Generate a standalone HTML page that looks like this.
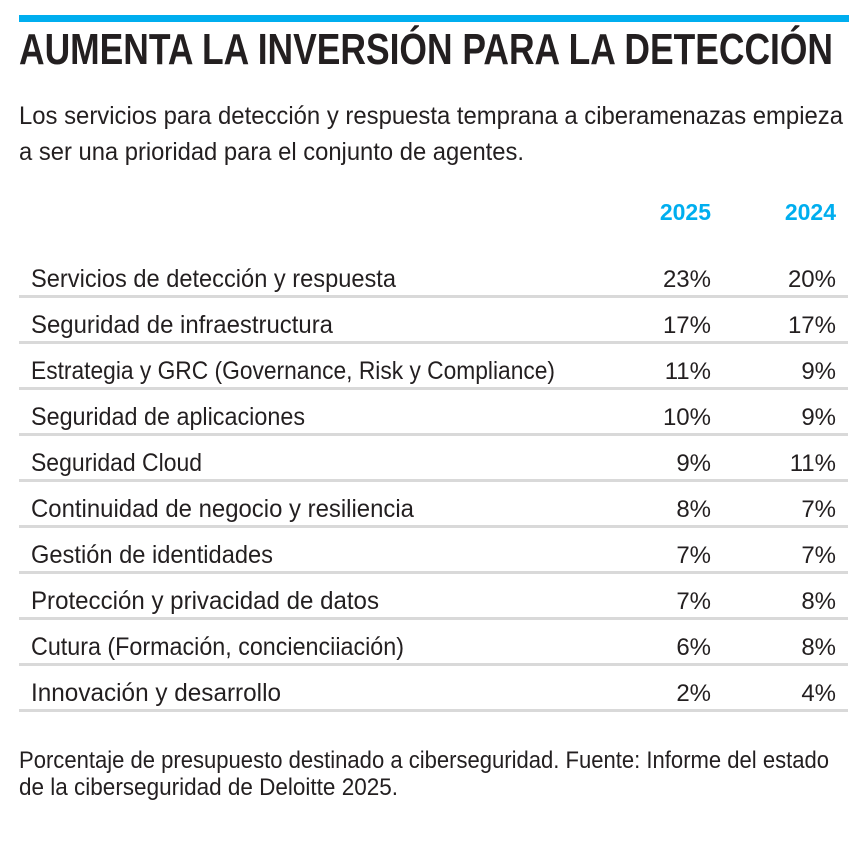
<!DOCTYPE html>
<html><head><meta charset="utf-8"><style>
html,body{margin:0;padding:0;background:#fff;}
svg{display:block;font-family:"Liberation Sans",sans-serif;}
</style></head><body>
<svg id="chart" width="866" height="844" viewBox="0 0 866 844" xmlns="http://www.w3.org/2000/svg">
<rect x="19" y="15" width="830" height="7" fill="#00aeef"/>
<text x="19" y="64" font-size="44" font-weight="bold" fill="#231f20" textLength="814" lengthAdjust="spacingAndGlyphs">AUMENTA LA INVERSIÓN PARA LA DETECCIÓN</text>
<text x="19" y="124" font-size="25" fill="#231f20" textLength="824" lengthAdjust="spacingAndGlyphs">Los servicios para  detección y respuesta temprana a ciberamenazas empieza</text>
<text x="19" y="160" font-size="25" fill="#231f20" textLength="505" lengthAdjust="spacingAndGlyphs">a ser una prioridad para el conjunto de agentes.</text>
<text x="711" y="220" font-size="23" font-weight="bold" fill="#00aeef" text-anchor="end">2025</text>
<text x="836" y="220" font-size="23" font-weight="bold" fill="#00aeef" text-anchor="end">2024</text>
<g id="rows"></g>
<text x="19" y="768" font-size="24" fill="#231f20" textLength="810" lengthAdjust="spacingAndGlyphs">Porcentaje de presupuesto destinado a ciberseguridad. Fuente: Informe del estado</text>
<text x="19" y="795" font-size="24" fill="#231f20" textLength="379" lengthAdjust="spacingAndGlyphs">de la ciberseguridad de Deloitte 2025.</text>
</svg>
<script>
const categories = ["Servicios de detección y respuesta","Seguridad de infraestructura","Estrategia y GRC (Governance, Risk y Compliance)","Seguridad de aplicaciones","Seguridad Cloud","Continuidad de negocio y resiliencia","Gestión de identidades","Protección y privacidad de datos","Cutura (Formación, concienciiación)","Innovación y desarrollo"];
const values2025 = [23,17,11,10,9,8,7,7,6,2];
const values2024 = [20,17,9,9,11,7,7,8,8,4];
const labelWidths = [365,302,524,274,171,383,242,348,373,250];
const NS = "http://www.w3.org/2000/svg";
const g = document.getElementById("rows");
function rowY(i){ return 287 + i*46; }
categories.forEach((c,i)=>{
  const y = rowY(i);
  const t = document.createElementNS(NS,"text");
  
  
  t.setAttribute("x",31); t.setAttribute("y",y);
  t.setAttribute("font-size",25); t.setAttribute("fill","#231f20");
  t.setAttribute("textLength",labelWidths[i]); t.setAttribute("lengthAdjust","spacingAndGlyphs");
  t.textContent = c; g.appendChild(t);
  [[values2025,711,'value-2025'],[values2024,836,'value-2024']].forEach(([arr,x,nm])=>{
    const v = document.createElementNS(NS,"text");
    
    
    v.setAttribute("x",x); v.setAttribute("y",y);
    v.setAttribute("font-size",24); v.setAttribute("fill","#231f20");
    v.setAttribute("text-anchor","end");
    v.textContent = arr[i] + "%"; g.appendChild(v);
  });
  const l = document.createElementNS(NS,"rect");
  
  
  l.setAttribute("x",19); l.setAttribute("y",y+8); l.setAttribute("width",829); l.setAttribute("height",3);
  l.setAttribute("fill","#d9d9d9"); g.appendChild(l);
});
</script>
</body></html>
